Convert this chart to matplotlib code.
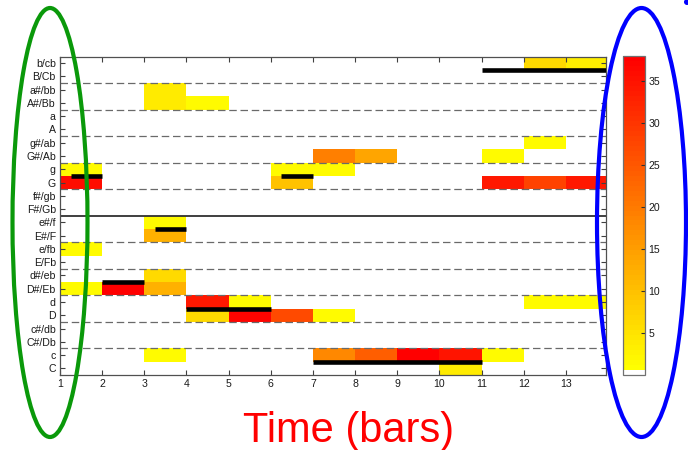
import numpy as np
import matplotlib
matplotlib.use("Agg")
import matplotlib.pyplot as plt
from matplotlib.colors import ListedColormap
from matplotlib.patches import Ellipse

plt.rcParams["font.family"] = ["Liberation Sans", "DejaVu Sans"]

# Chord vocabulary, bottom row first (upper case = major, lower case = minor)
chords = ["C", "c", "C#/Db", "c#/db", "D", "d", "D#/Eb", "d#/eb",
          "E/Fb", "e/fb", "E#/F", "e#/f", "F#/Gb", "f#/gb", "G", "g",
          "G#/Ab", "g#/ab", "A", "a", "A#/Bb", "a#/bb", "B/Cb", "b/cb"]
n_bars = 13
bar_ticks = list(range(1, 14))

# Chord-salience per bar (bar index, chord, value)
cell_bar = [1, 1, 1, 1,
            2,
            3, 3, 3, 3, 3, 3, 3,
            4, 4, 4,
            5, 5,
            6, 6, 6,
            7, 7, 7, 7,
            8, 8,
            9,
            10, 10,
            11, 11, 11,
            12, 12, 12, 12,
            13, 13, 13]
cell_chord = ["g", "G", "e/fb", "D#/Eb",
              "D#/Eb",
              "a#/bb", "A#/Bb", "e#/f", "E#/F", "d#/eb", "D#/Eb", "c",
              "A#/Bb", "d", "D",
              "d", "D",
              "g", "G", "D",
              "G#/Ab", "g", "D", "c",
              "G#/Ab", "c",
              "c",
              "c", "C",
              "G#/Ab", "G", "c",
              "b/cb", "g#/ab", "G", "d",
              "b/cb", "G", "d"]
cell_value = [1.5, 36, 1.5, 1.5,
              37.5,
              4, 4, 1.5, 12, 6, 12, 1.5,
              1.5, 34, 6,
              1.5, 37,
              1.5, 10, 27,
              19, 1.5, 1.5, 18,
              14, 24,
              37.5,
              35, 4,
              1.5, 34, 1.5,
              6, 1.5, 28, 1.5,
              3, 34, 1.5]

# Annotated chord segments (start bar, end bar, chord)
truth_chord = ["G", "D#/Eb", "E#/F", "D", "G", "C", "B/Cb"]
truth_start = [1.25, 2, 3.25, 4, 6.25, 7, 11]
truth_end = [2, 3, 4, 6, 7, 11, 14]

cbar_ticks = [5, 10, 15, 20, 25, 30, 35]
vmax = 38

values = np.zeros((len(chords), n_bars))
for b, c, v in zip(cell_bar, cell_chord, cell_value):
    values[chords.index(c), b - 1] = v

# yellow -> red map with a white entry for empty cells
base = plt.get_cmap("autumn_r")(np.linspace(0, 1, 63))
cmap = ListedColormap(np.vstack([[1, 1, 1, 1], base]))

W, H = 688, 450
fig = plt.figure(figsize=(W / 100, H / 100), dpi=100)

ax_l, ax_r, ax_t, ax_b = 60, 606, 56.5, 375
ax = fig.add_axes([ax_l / W, 1 - ax_b / H, (ax_r - ax_l) / W, (ax_b - ax_t) / H])

x_edges = np.arange(1, n_bars + 2)
y_edges = np.arange(len(chords) + 1)
mesh = ax.pcolormesh(x_edges, y_edges, values, cmap=cmap, vmin=0, vmax=vmax,
                     zorder=1)

# vertical dotted guides every five bars
for xv in (5, 10):
    ax.axvline(xv, color="#a8a8a8", lw=1.0, ls=(0, (1, 2)), zorder=0.5)

# separators between chord roots
for yv in range(2, 24, 2):
    if yv == 12:
        ax.axhline(yv, color="#303030", lw=1.3, zorder=2)
    else:
        ax.axhline(yv, color="#6a6a6a", lw=0.9, ls=(0, (6, 3)), zorder=2)

# annotated segments
for c, s, e in zip(truth_chord, truth_start, truth_end):
    yv = chords.index(c) + 1
    ax.plot([s, e], [yv, yv], color="black", lw=3.3, solid_capstyle="butt",
            zorder=3)

ax.set_xlim(1, 13.95)
ax.set_ylim(0, len(chords))
ax.set_xticks(bar_ticks)
ax.set_xticklabels([str(t) for t in bar_ticks])
ax.set_yticks(np.arange(len(chords)) + 0.5)
ax.set_yticklabels(chords)
ax.tick_params(axis="both", direction="in", length=3.5, width=0.8,
               color="#404040", labelsize=7.6, labelcolor="#1a1a1a", pad=3,
               top=True, right=True)
for sp in ax.spines.values():
    sp.set_color("#505050")
    sp.set_linewidth(0.9)

# colour bar
cb_l, cb_r, cb_t, cb_b = 622.5, 644.5, 56, 375
cax = fig.add_axes([cb_l / W, 1 - cb_b / H, (cb_r - cb_l) / W, (cb_b - cb_t) / H])
cb = fig.colorbar(mesh, cax=cax, ticks=cbar_ticks)
cb.outline.set_edgecolor("#707070")
cb.outline.set_linewidth(0.9)
cax.tick_params(direction="in", length=3, width=0.8, color="#303030",
                labelsize=7.6, labelcolor="#1a1a1a", pad=3)

fig.text(349 / W, 1 - 431 / H, "Time (bars)", color="red", fontsize=30,
         ha="center", va="center")

# highlight rings around the chord labels and the colour scale
fig.patches.append(Ellipse((50 / W, 1 - 222.5 / H), 75 / W, 429 / H,
                           transform=fig.transFigure, fill=False,
                           edgecolor="#0a990a", lw=3.0, zorder=10))
fig.patches.append(Ellipse((641.5 / W, 1 - 222.5 / H), 89 / W, 429 / H,
                           transform=fig.transFigure, fill=False,
                           edgecolor="#0000ff", lw=3.0, zorder=10))
fig.patches.append(Ellipse((687 / W, 1 - 2 / H), 6 / W, 6 / H,
                           transform=fig.transFigure, facecolor="#0000ff",
                           edgecolor="none", zorder=10))

fig.savefig("out.png", dpi=100)
